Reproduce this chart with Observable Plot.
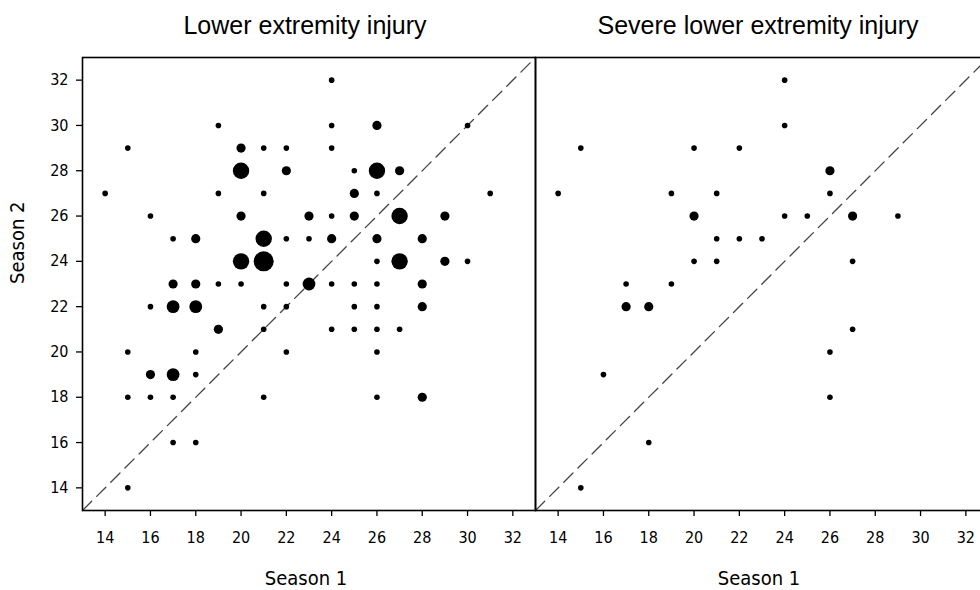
<!DOCTYPE html>
<html>
<head>
<meta charset="utf-8">
<script src="https://cdn.jsdelivr.net/npm/d3@7"></script>
<script src="https://cdn.jsdelivr.net/npm/@observablehq/plot@0.6"></script>
<style>
  html, body { margin: 0; padding: 0; background: white; overflow: hidden; }
  #chart svg { max-width: none !important; }
</style>
</head>
<body>
<div id="chart"></div>
<script>
// Panel titles
const panels = ["Lower extremity injury", "Severe lower extremity injury"];
const xLabel = "Season 1";
const yLabel = "Season 2";
const tickValues = [14, 16, 18, 20, 22, 24, 26, 28, 30, 32];
const axisLimits = [13, 33];

// Lower extremity injury: Season 1 score, Season 2 score, number of players
const lowerSeason1 = [24, 19,24,26,30, 15,20,21,22,24, 20,22,25,26,27, 14,19,21,25,26,31,
  16,20,23,24,25,27,29, 17,18,21,22,23,24,26,28, 20,21,26,27,29,30,
  17,18,19,20,22,23,24,25,26,28, 16,17,18,21,22,25,26,28, 19,21,24,25,26,27,
  15,18,22,26, 16,17,18, 15,16,17,21,26,28, 17,18, 15];
const lowerSeason2 = [32, 30,30,30,30, 29,29,29,29,29, 28,28,28,28,28, 27,27,27,27,27,27,
  26,26,26,26,26,26,26, 25,25,25,25,25,25,25,25, 24,24,24,24,24,24,
  23,23,23,23,23,23,23,23,23,23, 22,22,22,22,22,22,22,22, 21,21,21,21,21,21,
  20,20,20,20, 19,19,19, 18,18,18,18,18,18, 16,16, 14];
const lowerCount = [1, 1,1,2,1, 1,2,1,1,1, 4,2,1,4,2, 1,1,1,2,1,1,
  1,2,2,1,2,4,2, 1,2,4,1,1,2,2,2, 4,5,1,4,2,1,
  2,2,1,1,1,3,1,1,1,2, 1,3,3,1,1,1,1,2, 2,1,1,1,1,1,
  1,1,1,1, 2,3,1, 1,1,1,1,1,2, 1,1, 1];

// Severe lower extremity injury
const severeSeason1 = [14,15,15,16,17,17,18,18,19,19,20,20,20,21,21,21,22,22,23,24,24,24,25,26,26,26,26,27,27,27,29];
const severeSeason2 = [27,29,14,19,23,22,22,16,27,23,29,26,24,27,25,24,29,25,25,32,30,26,26,28,27,20,18,26,24,21,26];
const severeCount   = [ 1, 1, 1, 1, 1, 2, 2, 1, 1, 1, 1, 2, 1, 1, 1, 1, 1, 1, 1, 1, 1, 1, 1, 2, 1, 1, 1, 2, 1, 1, 1];

const rows = [
  ...lowerSeason1.map((v, i) => ({panel: panels[0], s1: v, s2: lowerSeason2[i], n: lowerCount[i]})),
  ...severeSeason1.map((v, i) => ({panel: panels[1], s1: v, s2: severeSeason2[i], n: severeCount[i]}))
];

// pick an installed narrow font for the axis text
function hasFont(name) {
  const ctx = document.createElement("canvas").getContext("2d");
  const probe = "Season 1 14 16 18 mmwwii";
  ctx.font = "20px monospace";
  const a = ctx.measureText(probe).width;
  ctx.font = `20px '${name}', monospace`;
  const b = ctx.measureText(probe).width;
  ctx.font = "20px serif";
  const c = ctx.measureText(probe).width;
  ctx.font = `20px '${name}', serif`;
  const d = ctx.measureText(probe).width;
  return a !== b || c !== d;
}
const narrowCandidates = ["Liberation Sans Narrow", "DejaVu Sans Condensed", "Roboto Condensed", "Open Sans Condensed"];
const narrow = narrowCandidates.find(hasFont);
const axisFont = narrow ? `'${narrow}', sans-serif` : "Roboto, sans-serif";

const chart = Plot.plot({
  width: 988,
  height: 590,
  marginLeft: 82,
  marginRight: 0,
  marginTop: 57,
  marginBottom: 80,
  style: {background: "white", fontFamily: axisFont, color: "black", maxWidth: "none"},
  fx: {domain: panels, padding: 0, axis: null},
  x: {domain: axisLimits},
  y: {domain: axisLimits},
  r: {type: "linear", domain: [1, 5], range: [2.8, 10]},
  marks: [
    Plot.line(axisLimits, {x: d => d, y: d => d, stroke: "#444", strokeWidth: 1.3, strokeDasharray: "13,7"}),
    Plot.dot(rows, {fx: "panel", x: "s1", y: "s2", r: "n", fill: "black"}),
    Plot.frame({stroke: "black", strokeWidth: 1.6}),
    Plot.axisX({ticks: tickValues, tickSize: 6, tickPadding: 15, fontSize: 16, label: null, stroke: "black", strokeWidth: 1.3}),
    Plot.axisY({ticks: tickValues, tickSize: 6, tickPadding: 8, fontSize: 16, label: null, stroke: "black", strokeWidth: 1.3}),
    Plot.text([yLabel], {fx: () => panels[0], text: d => d, frameAnchor: "left", dx: -65, rotate: -90, lineAnchor: "middle", fontSize: 20, fill: "black"}),
    Plot.text(panels, {fx: d => d, text: d => d, frameAnchor: "top", dy: -32, dx: -4, lineAnchor: "middle", fontSize: 25, fontFamily: "'Liberation Sans', Arial, sans-serif", fill: "black"}),
    Plot.text(panels, {fx: d => d, text: () => xLabel, frameAnchor: "bottom", dy: 68, dx: -3, lineAnchor: "middle", fontSize: 20, fill: "black"})
  ]
});
document.getElementById("chart").appendChild(chart);
</script>
</body>
</html>
